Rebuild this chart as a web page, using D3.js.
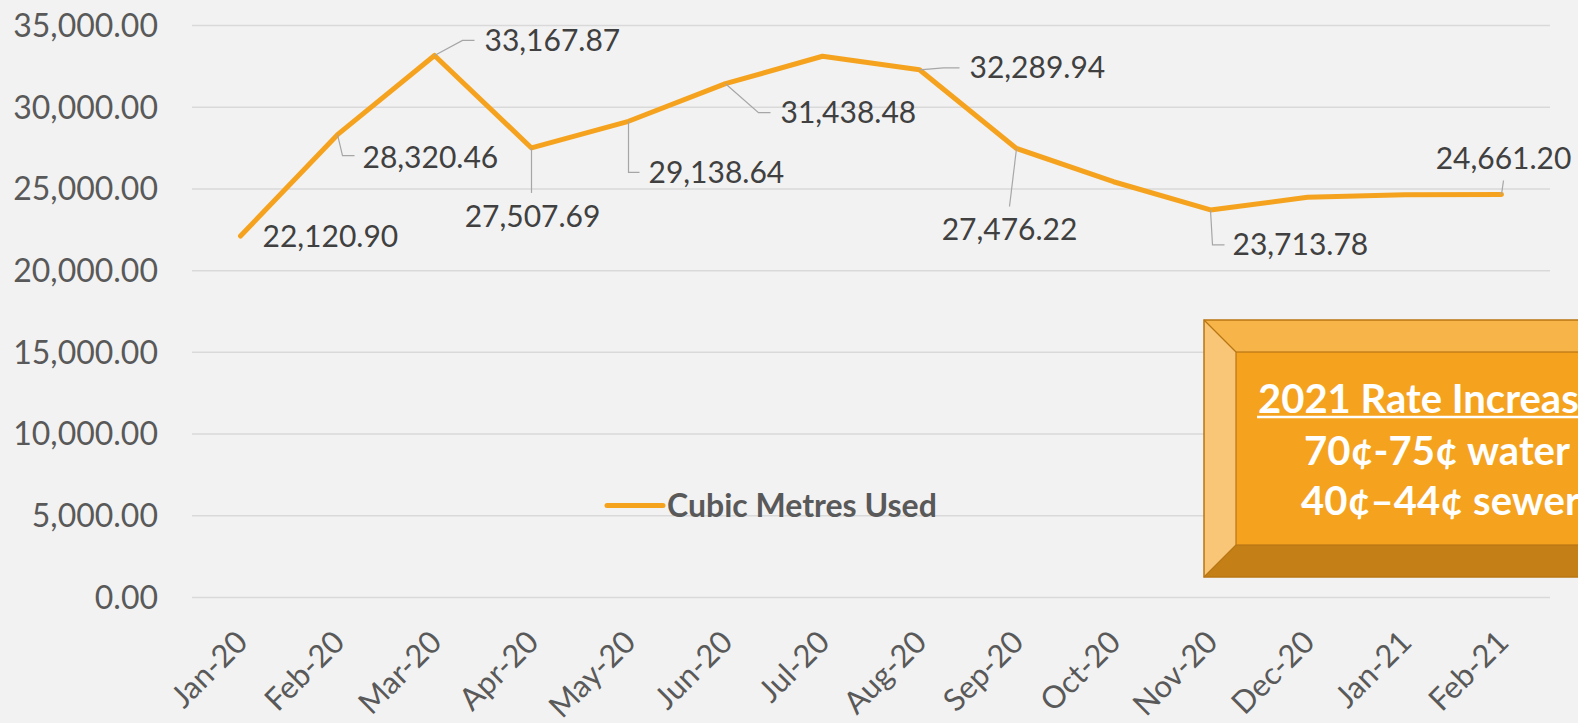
<!DOCTYPE html>
<html>
<head>
<meta charset="utf-8">
<script src="https://cdn.jsdelivr.net/npm/d3@7"></script>
<style>
  html, body { margin: 0; padding: 0; background: #F2F2F2; }
  svg { display: block; }
  text { font-family: "Gill Sans", "Gill Sans MT", Lato, "DejaVu Sans", sans-serif; }
</style>
</head>
<body>
<svg id="chart" width="1578" height="723"></svg>
<script>
// ---- data ----
const categories = ["Jan-20","Feb-20","Mar-20","Apr-20","May-20","Jun-20","Jul-20","Aug-20","Sep-20","Oct-20","Nov-20","Dec-20","Jan-21","Feb-21"];
const cubicMetres = [22120.90, 28320.46, 33167.87, 27507.69, 29138.64, 31438.48, 33120, 32289.94, 27476.22, 25440, 23713.78, 24490, 24640, 24661.20];
const labelled = [true, true, true, true, true, true, false, true, true, false, true, false, false, true];
const yTicks = [0, 5000, 10000, 15000, 20000, 25000, 30000, 35000];
const seriesName = "Cubic Metres Used";
const noteLines = ["2021 Rate Increase", "70¢-75¢ water", "40¢–44¢ sewer"];

// ---- layout (label placement relative to each point) ----
const labelLayout = [
  {dx: 22, dy: 1, anchor: "start", leader: null},
  {dx: 25, dy: 23, anchor: "start", leader: [[0,0],[5,21],[17,21]]},
  {dx: 50, dy: -15, anchor: "start", leader: [[0,0],[28,-15],[40,-15]]},
  {dx: 1, dy: 69, anchor: "middle", leader: [[0,0],[0,45]]},
  {dx: 20, dy: 51, anchor: "start", leader: [[0,0],[0,51],[11,51]]},
  {dx: 55, dy: 29, anchor: "start", leader: [[0,0],[33,29],[45,29]]},
  null,
  {dx: 50, dy: -2, anchor: "start", leader: [[0,0],[24,-2],[40,-2]]},
  {dx: -7, dy: 81, anchor: "middle", leader: [[0,0],[-7,58]]},
  null,
  {dx: 22, dy: 35, anchor: "start", leader: [[0,0],[2,35],[14,35]]},
  null,
  null,
  {dx: 2, dy: -36, anchor: "middle", leader: [[0,0],[2,-14]]}
];

const svg = d3.select("#chart");
svg.append("rect").attr("width", 1578).attr("height", 723).attr("fill", "#F2F2F2");

const x = d3.scaleBand().domain(categories).range([192, 1550]).paddingInner(0).paddingOuter(0);
const y = d3.scaleLinear().domain([0, 35000]).range([597.5, 25.5]);
const cx = c => x(c) + x.bandwidth() / 2;
const fmt = d3.format(",.2f");

// gridlines
svg.append("g").selectAll("line").data(yTicks).join("line")
  .attr("x1", 192).attr("x2", 1550)
  .attr("y1", d => y(d)).attr("y2", d => y(d))
  .attr("stroke", "#D9D9D9").attr("stroke-width", 1.5);

// y axis labels
const yAxis = d3.axisLeft(y).tickValues(yTicks).tickFormat(fmt).tickSize(0).tickPadding(0);
const yg = svg.append("g").attr("transform", "translate(158,0)").call(yAxis);
yg.select(".domain").remove();
yg.selectAll("text").attr("font-size", 32).attr("fill", "#595959").attr("dy", "0.34em")
  .style("font-family", "'Gill Sans', 'Gill Sans MT', Lato, sans-serif");

// x axis labels
const xAxis = d3.axisBottom(x).tickSize(0).tickPadding(0);
const xg = svg.append("g").call(xAxis);
xg.select(".domain").remove();
xg.selectAll(".tick").attr("transform", null);
xg.selectAll(".tick text")
  .attr("text-anchor", "end")
  .attr("font-size", 31)
  .attr("fill", "#595959")
  .attr("dy", 0).attr("y", 0)
  .style("font-family", "'Gill Sans', 'Gill Sans MT', Lato, sans-serif")
  .attr("transform", d => `translate(${cx(d) + 9},644) rotate(-45)`);

// line
const line = d3.line().x((d, i) => cx(categories[i])).y(d => y(d));
svg.append("path").datum(cubicMetres)
  .attr("d", line).attr("fill", "none")
  .attr("stroke", "#F5A31F").attr("stroke-width", 5)
  .attr("stroke-linejoin", "round").attr("stroke-linecap", "round");

// data labels
const lg = svg.append("g");
cubicMetres.forEach((v, i) => {
  if (!labelled[i]) return;
  const L = labelLayout[i];
  const px = cx(categories[i]), py = y(v);
  if (L.leader) {
    lg.append("polyline")
      .attr("points", L.leader.map(p => [px + p[0], py + p[1]].join(",")).join(" "))
      .attr("fill", "none").attr("stroke", "#A6A6A6").attr("stroke-width", 1.2);
  }
  lg.append("text")
    .attr("x", px + L.dx).attr("y", py + L.dy).attr("dy", "0.35em")
    .attr("text-anchor", L.anchor)
    .attr("font-size", 30).attr("fill", "#404040")
    .text(fmt(v));
});

// legend
svg.append("line").attr("x1", 607).attr("x2", 663).attr("y1", 505.5).attr("y2", 505.5)
  .attr("stroke", "#F5A31F").attr("stroke-width", 5).attr("stroke-linecap", "round");
svg.append("text").attr("x", 667).attr("y", 505.5).attr("dy", "0.35em")
  .attr("font-size", 32).attr("font-weight", "bold").attr("fill", "#595959")
  .text(seriesName);

// bevelled note box
const bx0 = 1204, by0 = 320, bx1 = 1640, by1 = 577, bev = 32;
const nb = svg.append("g");
nb.append("rect").attr("x", bx0).attr("y", by0).attr("width", bx1 - bx0).attr("height", by1 - by0)
  .attr("fill", "#C47F17");
nb.append("polygon").attr("points", `${bx0},${by0} ${bx1},${by0} ${bx1},${by0 + bev} ${bx0 + bev},${by0 + bev}`)
  .attr("fill", "#F7B449");
nb.append("polygon").attr("points", `${bx0},${by0} ${bx0 + bev},${by0 + bev} ${bx0 + bev},${by1 - bev} ${bx0},${by1}`)
  .attr("fill", "#F9C677");
nb.append("rect").attr("x", bx0 + bev).attr("y", by0 + bev).attr("width", bx1 - bx0 - bev).attr("height", by1 - by0 - 2 * bev)
  .attr("fill", "#F5A31F").attr("stroke", "#B97613").attr("stroke-width", 1.2);
nb.append("polyline").attr("points", `${bx0},${by0} ${bx0 + bev},${by0 + bev}`).attr("stroke", "#B97613").attr("stroke-width", 1.2);
nb.append("polyline").attr("points", `${bx0},${by1} ${bx0 + bev},${by1 - bev}`).attr("stroke", "#B97613").attr("stroke-width", 1.2);
nb.append("rect").attr("x", bx0).attr("y", by0).attr("width", bx1 - bx0).attr("height", by1 - by0)
  .attr("fill", "none").attr("stroke", "#B97613").attr("stroke-width", 1.5);

const noteX = [1258, 1304, 1301];
const noteY = [413, 465, 515];
noteLines.forEach((t, i) => {
  const tx = nb.append("text").attr("x", noteX[i]).attr("y", noteY[i])
    .attr("font-size", 40).attr("font-weight", "bold").attr("fill", "#FFFFFF").text(t);
  if (i === 0) {
    const w = tx.node().getComputedTextLength();
    nb.append("line").attr("x1", noteX[i] - 1).attr("x2", noteX[i] + w).attr("y1", noteY[i] + 4).attr("y2", noteY[i] + 4)
      .attr("stroke", "#FFFFFF").attr("stroke-width", 2.5);
  }
});
</script>
</body>
</html>
